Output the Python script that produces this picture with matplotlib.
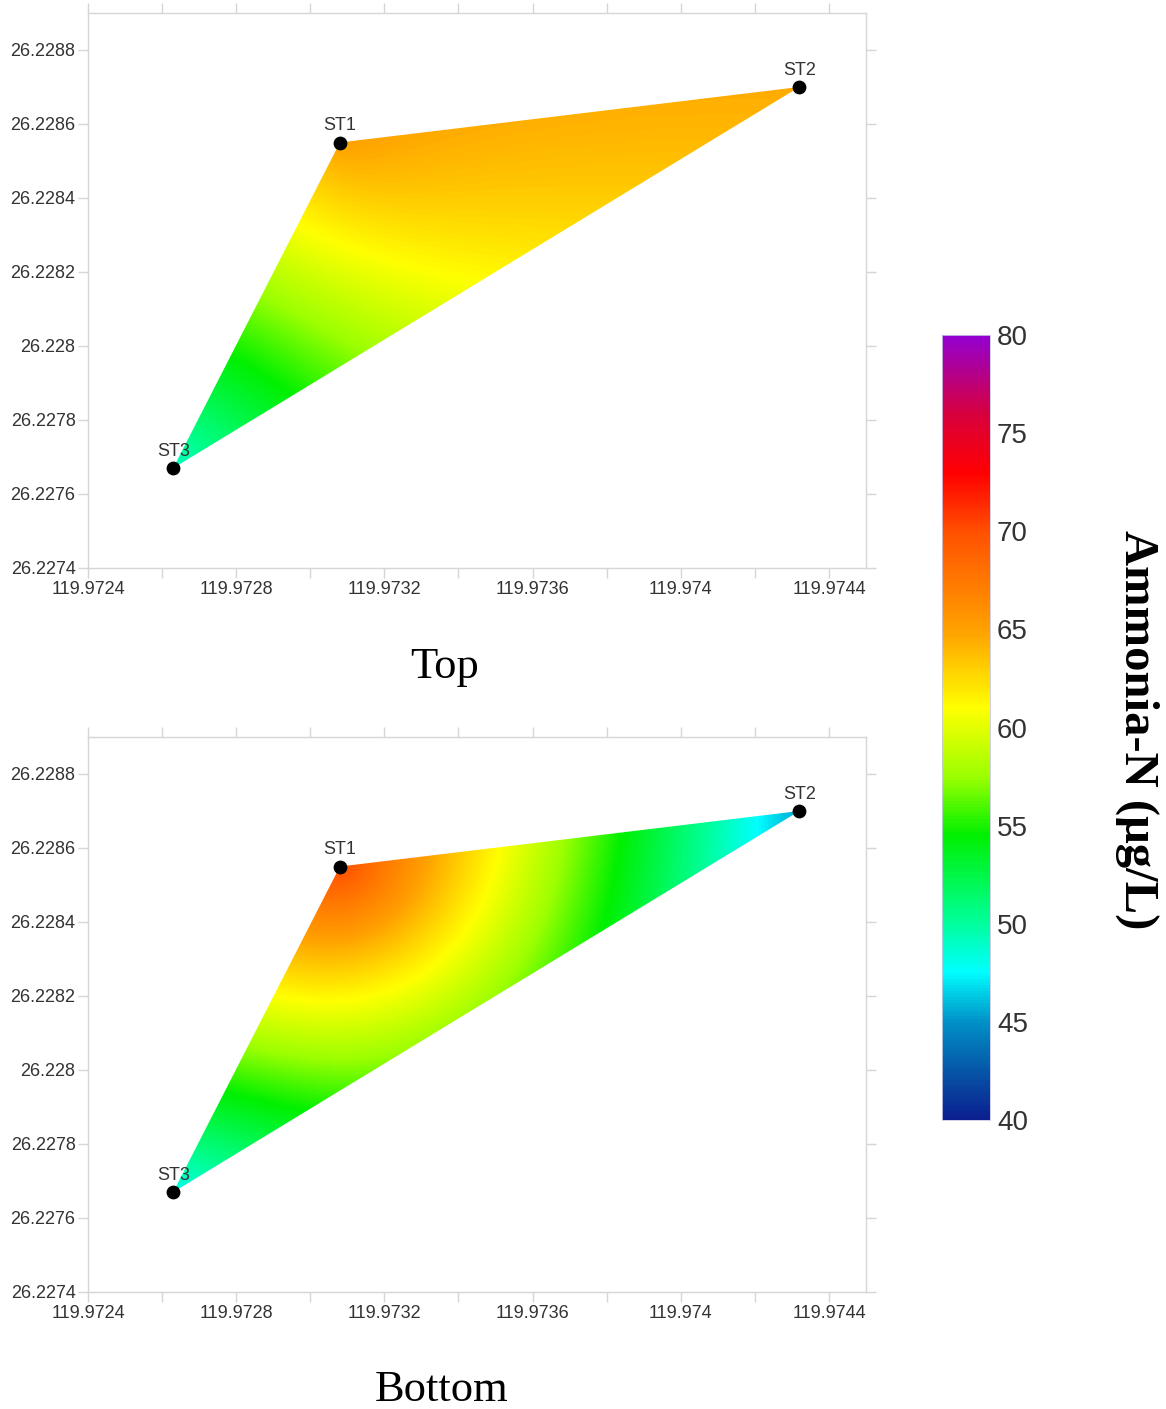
"""Ammonia-N at the three stations (surface / bottom water), gridded with
ordinary kriging (linear variogram) and clipped to the station triangle."""

import numpy as np
import matplotlib

matplotlib.use("Agg")
import matplotlib.pyplot as plt
from matplotlib.colors import LinearSegmentedColormap
from matplotlib.patches import Polygon

# station positions and values
stations = ["ST1", "ST2", "ST3"]
lon = [119.97308, 119.97432, 119.97263]
lat = [26.22855, 26.22870, 26.22767]
ammonia_top = [65.0, 64.5, 49.0]
ammonia_bottom = [70.0, 45.5, 48.0]
panel_titles = ["Top", "Bottom"]

x_ticks = [119.9724, 119.9728, 119.9732, 119.9736, 119.9740, 119.9744]
x_tick_labels = ["119.9724", "119.9728", "119.9732", "119.9736", "119.974", "119.9744"]
x_minor = [119.9726, 119.9730, 119.9734, 119.9738, 119.9742]
y_ticks = [26.2274, 26.2276, 26.2278, 26.2280, 26.2282, 26.2284, 26.2286, 26.2288]
y_tick_labels = ["26.2274", "26.2276", "26.2278", "26.228", "26.2282",
                 "26.2284", "26.2286", "26.2288"]

cbar_ticks = [40, 45, 50, 55, 60, 65, 70, 75, 80]
cbar_label = "Ammonia-N (μg/L)"

# colour scale as in the legend bar
cmap_nodes = [
    (40.0, "#0b1f8f"),
    (42.5, "#0657a8"),
    (45.0, "#0092c8"),
    (47.5, "#00ffff"),
    (50.0, "#00ff9c"),
    (54.5, "#00f000"),
    (57.5, "#9cff00"),
    (61.0, "#ffff00"),
    (65.0, "#ffa000"),
    (70.0, "#ff5000"),
    (73.0, "#ff0000"),
    (76.0, "#d8003c"),
    (80.0, "#9400d0"),
]
VMIN, VMAX = 40, 80

XLIM = (119.9724, 119.9745)
YLIM = (26.2274, 26.2289)
GRID_GREY = "#d6d6d6"
TEXT_GREY = "#333333"


def krige_linear(xs, ys, vals, gx, gy):
    """Ordinary kriging with gamma(h) = h."""
    pts = np.column_stack([xs, ys])
    n = len(vals)
    A = np.ones((n + 1, n + 1))
    A[:n, :n] = np.hypot(pts[:, None, 0] - pts[None, :, 0],
                         pts[:, None, 1] - pts[None, :, 1])
    A[n, n] = 0.0
    d = np.hypot(gx.ravel()[None, :] - pts[:, 0:1],
                 gy.ravel()[None, :] - pts[:, 1:2])
    B = np.vstack([d, np.ones(d.shape[1])])
    w = np.linalg.solve(A, B)[:n]
    return (np.asarray(vals) @ w).reshape(gx.shape)


def draw_panel(ax, values, cmap):
    gx, gy = np.meshgrid(np.linspace(XLIM[0], XLIM[1], 840),
                         np.linspace(YLIM[0], YLIM[1], 600))
    field = krige_linear(lon, lat, values, gx, gy)

    tri = Polygon(np.column_stack([lon, lat]), closed=True,
                  facecolor="none", edgecolor="none")
    ax.add_patch(tri)
    im = ax.imshow(field, origin="lower", extent=(*XLIM, *YLIM), cmap=cmap,
                   vmin=VMIN, vmax=VMAX, interpolation="bilinear",
                   aspect="auto", zorder=1)
    im.set_clip_path(tri)

    ax.scatter(lon, lat, s=80, color="black", zorder=5)
    for name, x, y in zip(stations, lon, lat):
        ax.annotate(name, (x, y), xytext=(0, 6), textcoords="offset points",
                    ha="center", va="bottom", fontsize=13,
                    color=TEXT_GREY, zorder=6)

    ax.set_xlim(*XLIM)
    ax.set_ylim(*YLIM)
    ax.set_xticks(x_ticks)
    ax.set_xticklabels(x_tick_labels)
    ax.set_xticks(x_minor, minor=True)
    ax.set_yticks(y_ticks)
    ax.set_yticklabels(y_tick_labels)
    for s in ax.spines.values():
        s.set_color(GRID_GREY)
        s.set_linewidth(1.0)
    ax.tick_params(which="both", direction="out", length=7, width=1.0,
                   color=GRID_GREY, top=True, right=True,
                   labelsize=13, labelcolor=TEXT_GREY, pad=2)
    return im


plt.rcParams["font.family"] = ["Liberation Sans", "DejaVu Sans"]

cmap = LinearSegmentedColormap.from_list(
    "ammonia", [((v - VMIN) / (VMAX - VMIN), c) for v, c in cmap_nodes])

fig = plt.figure(figsize=(11.66, 14.09), dpi=100)
W, H = 1166, 1409


def px_axes(left, top, right, bottom):
    return fig.add_axes([left / W, 1 - bottom / H, (right - left) / W, (bottom - top) / H])


ax_top = px_axes(88, 13, 866, 568)
ax_bot = px_axes(88, 737, 866, 1292)

im = draw_panel(ax_top, ammonia_top, cmap)
draw_panel(ax_bot, ammonia_bottom, cmap)

serif = ["Liberation Serif", "DejaVu Serif"]
fig.text(445 / W, 1 - 667 / H, panel_titles[0], ha="center", va="center",
         fontsize=32, family=serif)
fig.text(442 / W, 1 - 1390 / H, panel_titles[1], ha="center", va="center",
         fontsize=32, family=serif)

cax = px_axes(942, 335, 990, 1120)
cb = fig.colorbar(im, cax=cax, ticks=cbar_ticks)
cb.outline.set_edgecolor("#c8c8e8")
cb.outline.set_linewidth(0.6)
cax.tick_params(length=0, labelsize=20, labelcolor=TEXT_GREY, pad=5)

fig.text(1137 / W, 1 - 730 / H, cbar_label, rotation=-90, ha="center",
         va="center", fontsize=35, fontweight="bold", family=serif)

fig.savefig("out.png", dpi=100)
